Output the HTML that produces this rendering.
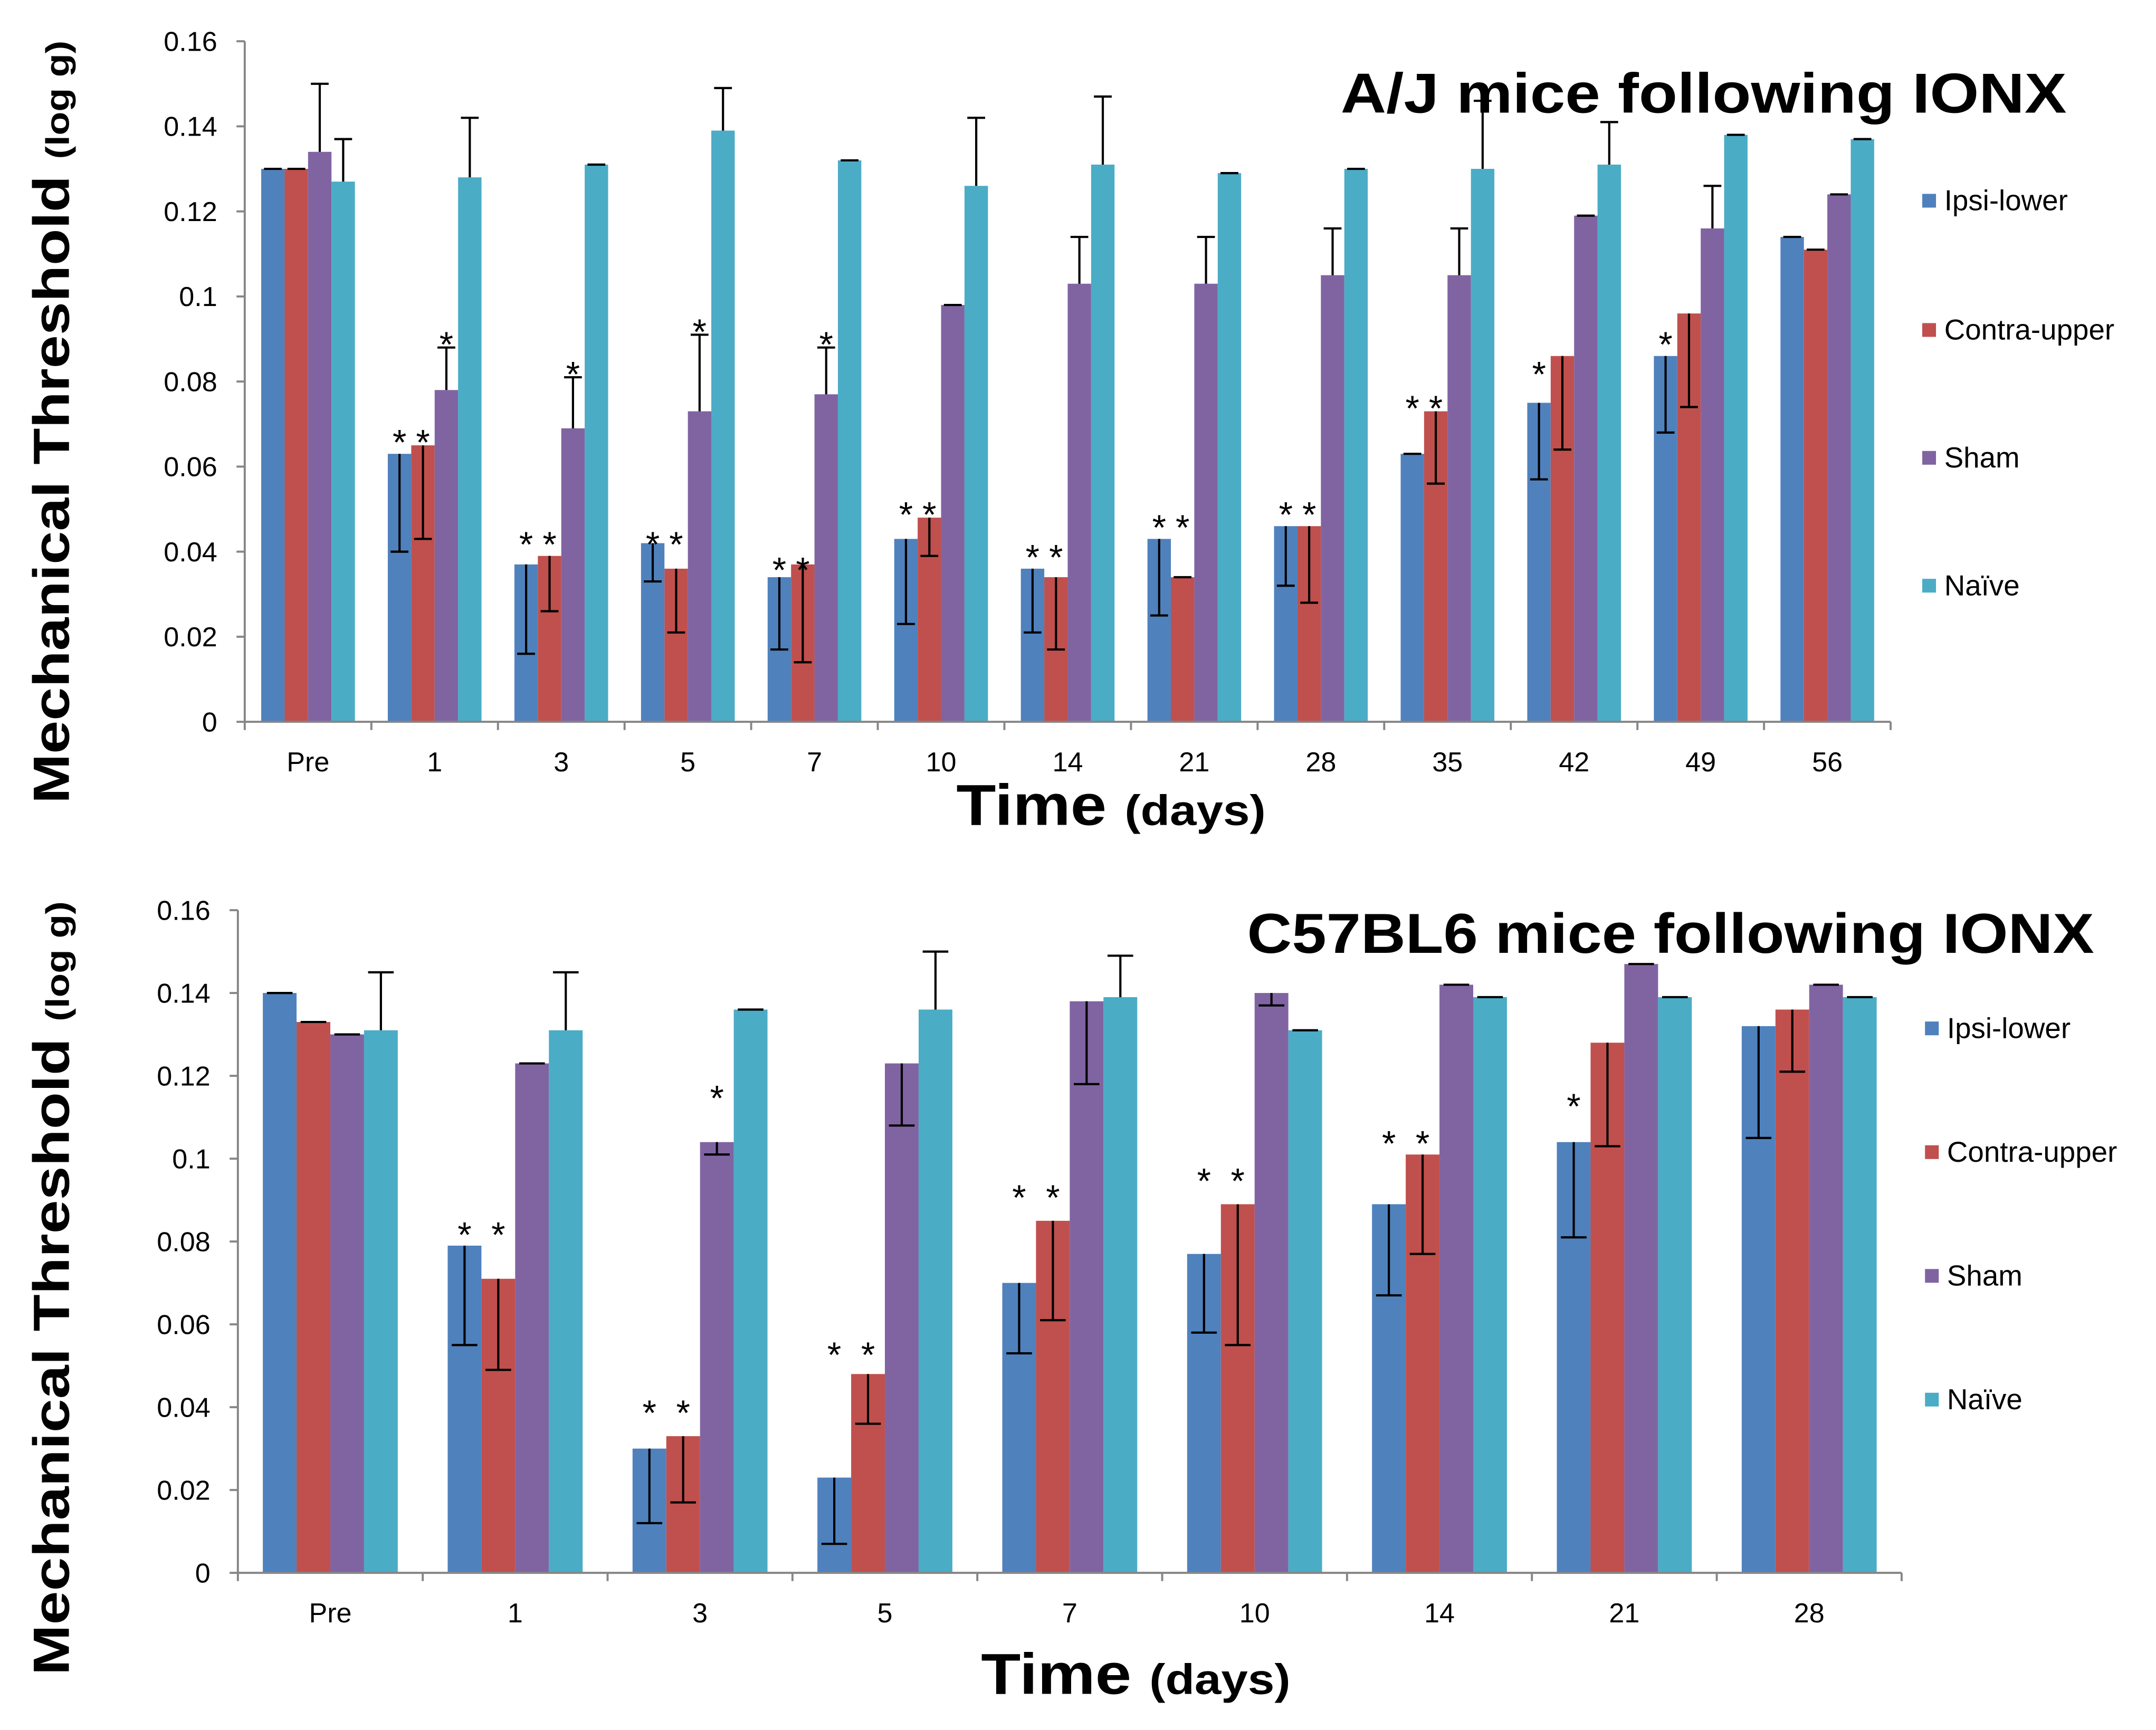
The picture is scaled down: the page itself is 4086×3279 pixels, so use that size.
<!DOCTYPE html>
<html><head><meta charset="utf-8"><style>
html,body{margin:0;padding:0;background:#fff;}
svg{display:block;font-family:"Liberation Sans",Arial,sans-serif;}
</style></head><body>
<svg id="chart" width="4086" height="3279" viewBox="0 0 1568 1258.3" xmlns="http://www.w3.org/2000/svg">
<rect width="1568" height="1258.3" fill="#fff"/>
</svg>
<script>
const colors=['#4F81BD','#C0504D','#8064A2','#4BACC6'];
const seriesNames=['Ipsi-lower','Contra-upper','Sham','Naïve'];
const topCats=['Pre','1','3','5','7','10','14','21','28','35','42','49','56'];
const topIpsi=[0.130,0.063,0.037,0.042,0.034,0.043,0.036,0.043,0.046,0.063,0.075,0.086,0.114];
const topContra=[0.130,0.065,0.039,0.036,0.037,0.048,0.034,0.034,0.046,0.073,0.086,0.096,0.111];
const topSham=[0.134,0.078,0.069,0.073,0.077,0.098,0.103,0.103,0.105,0.105,0.119,0.116,0.124];
const topNaive=[0.127,0.128,0.131,0.139,0.132,0.126,0.131,0.129,0.130,0.130,0.131,0.138,0.137];
const topErrIpsi=[0,-0.023,-0.021,-0.009,-0.017,-0.020,-0.015,-0.018,-0.014,0,-0.018,-0.018,0];
const topErrContra=[0,-0.022,-0.013,-0.015,-0.023,-0.009,-0.017,0,-0.018,-0.017,-0.022,-0.022,0];
const topErrSham=[0.016,0.010,0.012,0.018,0.011,0,0.011,0.011,0.011,0.011,0,0.010,0];
const topErrNaive=[0.010,0.014,0,0.010,0,0.016,0.016,0,0,0.016,0.010,0,0];
const topStars=[[1,'**',0.068],[1,'*s',0.091],[2,'**',0.044],[2,'*s',0.084],[3,'**',0.044],[3,'*s',0.094],[4,'**',0.038],[4,'*s',0.091],[5,'**',0.051],[6,'**',0.041],[7,'**',0.048],[8,'**',0.051],[9,'**',0.076],[10,'*i',0.084],[11,'*i',0.091]];
const botCats=['Pre','1','3','5','7','10','14','21','28'];
const botIpsi=[0.140,0.079,0.030,0.023,0.070,0.077,0.089,0.104,0.132];
const botContra=[0.133,0.071,0.033,0.048,0.085,0.089,0.101,0.128,0.136];
const botSham=[0.130,0.123,0.104,0.123,0.138,0.140,0.142,0.147,0.142];
const botNaive=[0.131,0.131,0.136,0.136,0.139,0.131,0.139,0.139,0.139];
const botErrIpsi=[0,-0.024,-0.018,-0.016,-0.017,-0.019,-0.022,-0.023,-0.027];
const botErrContra=[0,-0.022,-0.016,-0.012,-0.024,-0.034,-0.024,-0.025,-0.015];
const botErrSham=[0,0,-0.003,-0.015,-0.020,-0.003,0,0,0];
const botErrNaive=[0.014,0.014,0,0.014,0.010,0,0,0,0];
const botStars=[[1,'**',0.084],[2,'**',0.041],[2,'*s',0.117],[3,'**',0.055],[4,'**',0.093],[5,'**',0.097],[6,'**',0.106],[7,'*i',0.115]];
const yTicks=[0,0.02,0.04,0.06,0.08,0.1,0.12,0.14,0.16];
const yTickLabels=['0','0.02','0.04','0.06','0.08','0.1','0.12','0.14','0.16'];

const NS='http://www.w3.org/2000/svg';
const svg=document.getElementById('chart');
function mk(tag,attrs,parent,text){const e=document.createElementNS(NS,tag);for(const k in attrs)e.setAttribute(k,attrs[k]);if(text!==undefined)e.textContent=text;(parent||svg).appendChild(e);return e;}

function drawPanel(cfg){
  const g=mk('g',{});
  
  
  const {x0,x1,y0,y1}=cfg;
  const ys=v=>y0-(v/0.16)*(y0-y1);
  const gw=(x1-x0)/cfg.cats.length;
  const bw=gw*cfg.frac/4;
  const xs=(i,s)=>x0+gw*i+gw/2-2*bw+s*bw;
  const ax=mk('line',{x1:x0,y1:y1,x2:x0,y2:y0,stroke:'#868686','stroke-width':1.5},g);
  
  yTicks.forEach((t,i)=>{
    mk('line',{x1:x0-6,x2:x0,y1:ys(t),y2:ys(t),stroke:'#868686','stroke-width':1.5},g);
    const tl=mk('text',{x:x0-20,y:ys(t)+7,'text-anchor':'end','font-size':20,fill:'#000'},g,yTickLabels[i]);
    
  });
  const series=[cfg.ipsi,cfg.contra,cfg.sham,cfg.naive];
  const errs=[cfg.eI,cfg.eC,cfg.eS,cfg.eN];
  const cap=bw*0.38;
  cfg.cats.forEach((c,i)=>{
    series.forEach((arr,s)=>{
      const v=arr[i];const bx=xs(i,s);
      const r=mk('rect',{x:bx,y:ys(v),width:bw,height:y0-ys(v),fill:colors[s]},g);
      
      
      const e=errs[s][i];const cx=bx+bw/2;
      const ey=ys(v+e);
      const el=mk('line',{x1:cx,x2:cx,y1:ys(v),y2:ey,stroke:'#000','stroke-width':1.6},g);
      
      mk('line',{x1:cx-cap,x2:cx+cap,y1:ey,y2:ey,stroke:'#000','stroke-width':1.6},g);
    });
    const tl=mk('text',{x:x0+gw*i+gw/2,y:y0+36,'text-anchor':'middle','font-size':20,fill:'#000'},g,c);
    
    mk('line',{x1:x0+gw*(i+1),x2:x0+gw*(i+1),y1:y0,y2:y0+6,stroke:'#868686','stroke-width':1.5},g);
  });
  mk('line',{x1:x0,x2:x0,y1:y0,y2:y0+6,stroke:'#868686','stroke-width':1.5},g);
  const xa=mk('line',{x1:x0,y1:y0,x2:x1,y2:y0,stroke:'#868686','stroke-width':1.5},g);
  
  cfg.stars.forEach(([i,k,v])=>{
    const idx=k==='**'?[0,1]:(k==='*s'?[2]:[0]);
    idx.forEach(s=>{
      const t=mk('text',{x:xs(i,s)+bw/2,y:ys(v)+16,'text-anchor':'middle','font-size':26,fill:'#000'},g,'*');
      
    });
  });
  seriesNames.forEach((n,s)=>{
    const ly=cfg.legY[s];
    const lg=mk('g',{},g);
    
    mk('rect',{x:cfg.legX,y:ly-5,width:10,height:10,fill:colors[s]},lg);
    mk('text',{x:cfg.legX+16,y:ly+7,'font-size':21,fill:'#000'},lg,n);
  });
  const ti=mk('text',{x:cfg.titleX,y:cfg.titleY,'font-size':41,'font-weight':'bold',fill:'#000',textLength:cfg.titleLen,lengthAdjust:'spacingAndGlyphs'},g,cfg.title);
  
  const xt=mk('text',{x:cfg.xtX,y:cfg.xtY,'text-anchor':'middle','font-size':42,'font-weight':'bold',fill:'#000',textLength:225,lengthAdjust:'spacingAndGlyphs'},g);
  
  mk('tspan',{},xt,'Time ');mk('tspan',{'font-size':31},xt,'(days)');
  const yt=mk('text',{x:0,y:0,'text-anchor':'middle','font-size':37,'font-weight':'bold',fill:'#000',textLength:cfg.ytLen,lengthAdjust:'spacingAndGlyphs',transform:`translate(${cfg.ytX},${cfg.ytY}) rotate(-90)`},g);
  
  mk('tspan',{},yt,'Mechanical Threshold ');mk('tspan',{'font-size':24},yt,'(log g)');
}
drawPanel({name:'aj-panel',x0:178,x1:1375,y0:525,y1:30,cats:topCats,frac:0.74,
  ipsi:topIpsi,contra:topContra,sham:topSham,naive:topNaive,eI:topErrIpsi,eC:topErrContra,eS:topErrSham,eN:topErrNaive,stars:topStars,
  legX:1398,legY:[146,240,333,426],title:'A/J mice following IONX',titleX:975,titleY:82,titleLen:528,xtX:808,xtY:600,ytX:50,ytY:307,ytLen:555});
drawPanel({name:'c57bl6-panel',x0:173,x1:1383,y0:1144,y1:662,cats:botCats,frac:0.73,
  ipsi:botIpsi,contra:botContra,sham:botSham,naive:botNaive,eI:botErrIpsi,eC:botErrContra,eS:botErrSham,eN:botErrNaive,stars:botStars,
  legX:1400,legY:[748,838,928,1018],title:'C57BL6 mice following IONX',titleX:907,titleY:693,titleLen:616,xtX:826,xtY:1232,ytX:50,ytY:937,ytLen:563});
</script>
</body></html>
